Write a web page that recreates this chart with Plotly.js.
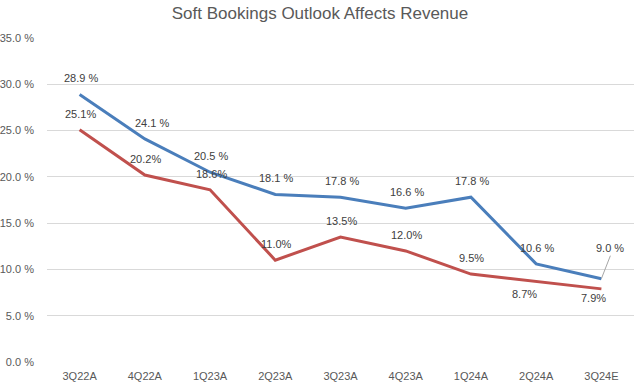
<!DOCTYPE html>
<html>
<head>
<meta charset="utf-8">
<script src="https://cdn.plot.ly/plotly-3.0.1.min.js"></script>
<style>html,body{margin:0;padding:0;background:#fff;}#chart{width:640px;height:389px;}</style>
</head>
<body>
<div id="chart"></div>
<script>
const quarters = ["3Q22A","4Q22A","1Q23A","2Q23A","3Q23A","4Q23A","1Q24A","2Q24A","3Q24E"];
const seriesBlue = [28.9, 24.1, 20.5, 18.1, 17.8, 16.6, 17.8, 10.6, 9.0];
const seriesRed = [25.1, 20.2, 18.6, 11.0, 13.5, 12.0, 9.5, 8.7, 7.9];
const blueLabels = ["28.9 %","24.1 %","20.5 %","18.1 %","17.8 %","16.6 %","17.8 %","10.6 %","9.0 %"];
const redLabels = ["25.1%","20.2%","18.6%","11.0%","13.5%","12.0%","9.5%","8.7%","7.9%"];

const FONT = "Liberation Sans, Arial, sans-serif";
const GREY = "#595959";
const BLUE = "#4a7ebb";
const RED = "#c0504d";

const traces = [
  {x: quarters, y: seriesBlue, type: "scatter", mode: "lines", line: {color: BLUE, width: 3}, hoverinfo: "skip"},
  {x: quarters, y: seriesRed, type: "scatter", mode: "lines", line: {color: RED, width: 3}, hoverinfo: "skip"}
];

// label placement (style only)
const blueShift = quarters.map((q, i) => ({dx: i === 1 ? 7 : 1, dy: 16}));
const redShift = quarters.map((q, i) => ({dx: 1, dy: 16}));
redShift[7] = {dx: -12, dy: -13};
redShift[8] = {dx: -8, dy: -9};

const annotations = [];
quarters.forEach((q, i) => {
  if (i === 8) {
    annotations.push({x: q, y: seriesBlue[i], xref: "x", yref: "y", text: blueLabels[i],
      showarrow: true, arrowhead: 0, arrowwidth: 1, arrowcolor: "#a6a6a6", ax: 9, ay: -23,
      xanchor: "center", yanchor: "bottom", standoff: 0,
      font: {family: FONT, size: 11, color: "#404040"}});
  } else {
    annotations.push({x: q, y: seriesBlue[i], xref: "x", yref: "y", text: blueLabels[i],
      showarrow: false, xanchor: "center", yanchor: "middle", xshift: blueShift[i].dx, yshift: blueShift[i].dy,
      font: {family: FONT, size: 11, color: "#404040"}});
  }
  annotations.push({x: q, y: seriesRed[i], xref: "x", yref: "y", text: redLabels[i],
    showarrow: false, xanchor: "center", yanchor: "middle", xshift: redShift[i].dx, yshift: redShift[i].dy,
    font: {family: FONT, size: 11, color: "#404040"}});
});

const layout = {
  width: 640, height: 389,
  margin: {l: 47, r: 6, t: 38, b: 27},
  paper_bgcolor: "#fff", plot_bgcolor: "#fff",
  showlegend: false,
  title: {text: "Soft Bookings Outlook Affects Revenue", x: 0.5, xanchor: "center", y: 0.982, yanchor: "top",
    font: {family: FONT, size: 17, color: GREY}},
  xaxis: {type: "category", range: [-0.5, 8.5], showgrid: false, zeroline: false, showline: false,
    ticks: "", tickfont: {family: FONT, size: 11, color: GREY}, ticklabelstandoff: 6, fixedrange: true},
  yaxis: {range: [0, 35], dtick: 5, tickformat: ".1f", ticksuffix: " %", showgrid: true, gridcolor: "#d9d9d9",
    gridwidth: 1, zeroline: false, showline: false, ticks: "", ticklabelstandoff: 12,
    tickfont: {family: FONT, size: 11, color: GREY}, fixedrange: true},
  annotations: annotations
};

Plotly.newPlot("chart", traces, layout, {displayModeBar: false, staticPlot: true});
</script>
</body>
</html>
